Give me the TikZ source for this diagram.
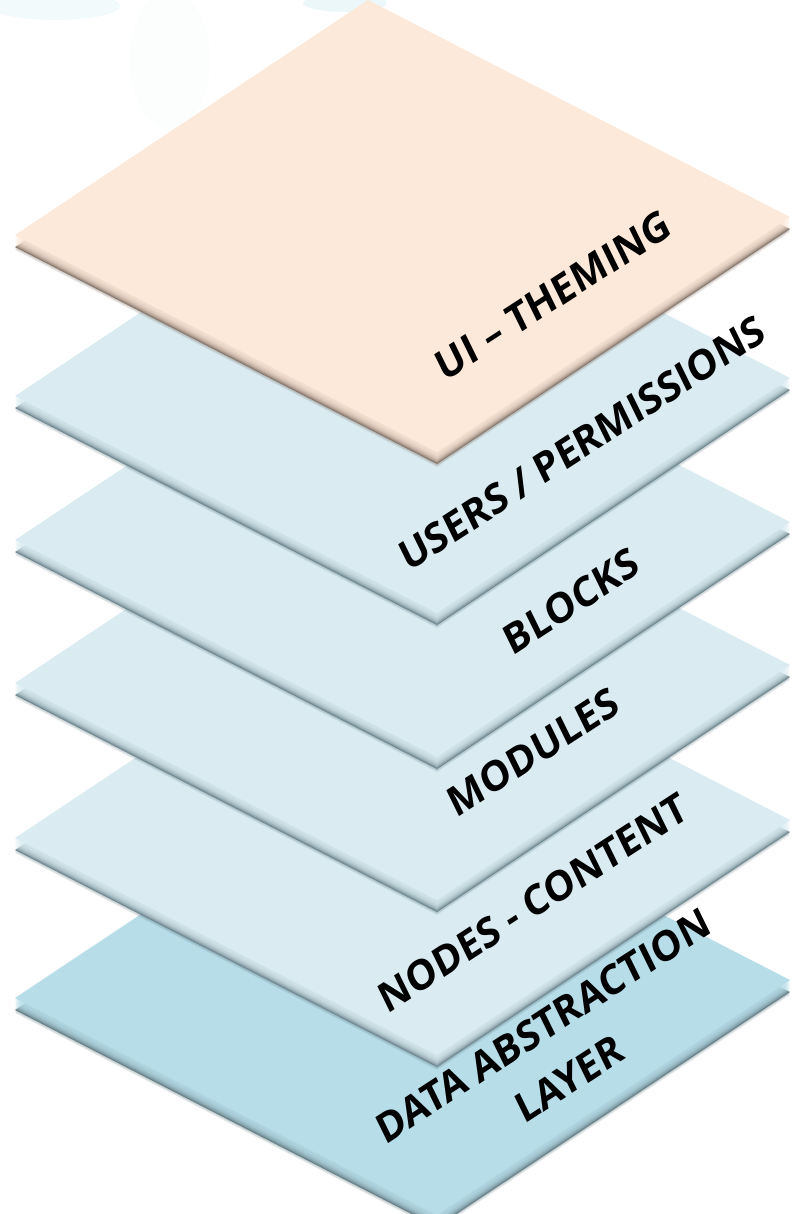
\documentclass[tikz,border=0pt]{standalone}
\usepackage{fontspec}
\setmainfont{Open Sans}
\usepackage{tikz}
\usetikzlibrary{positioning}

\definecolor{peachface}{HTML}{FCE9DA}
\definecolor{peachedge}{HTML}{6F5C50}
\definecolor{blueface}{HTML}{DAECF2}
\definecolor{blueedge}{HTML}{55707A}
\definecolor{baseface}{HTML}{B7DDE8}
\definecolor{baseedge}{HTML}{4A6770}
\definecolor{splash}{HTML}{BFE6EC}

% one plate of the stack: #1 = y of left corner, #2 = face, #3 = edge
\newcommand{\plate}[3]{%
  \foreach \k in {3,2,1}
    \fill[#3, opacity=0.12] (15,#1+\k) -- (437,#1+217+\k) -- (790,#1-18+\k) -- (368,#1-235+\k) -- cycle;
  \fill[#3!85!white] (15,#1) -- (437,#1+217) -- (790,#1-18) -- (368,#1-235) -- cycle;
  \foreach \k in {1,...,11}
    \fill[#2, opacity=0.22] (15,#1-\k) -- (437,#1+217-\k) -- (790,#1-18-\k) -- (368,#1-235-\k) -- cycle;
  \fill[#2] (15,#1-12) -- (437,#1+205) -- (790,#1-30) -- (368,#1-247) -- cycle;
}

\begin{document}
\begin{tikzpicture}[x=0.75pt, y=-0.75pt,
  layertext/.style={font=\bfseries\fontsize{30}{44}\selectfont, rotate=33, xslant=0.12, align=center, inner sep=0pt}]

\useasboundingbox (0,0) rectangle (792,1214);

% faint splashes at the top
\fill[splash, opacity=0.2] (55,6) ellipse (65 and 14);
\fill[splash, opacity=0.05] (170,60) ellipse (40 and 70);
\fill[splash, opacity=0.3] (345,3) ellipse (42 and 9);

% plates, from the bottom up
\plate{1010}{baseface}{baseedge}
\plate{850}{blueface}{blueedge}
\plate{695}{blueface}{blueedge}
\plate{552}{blueface}{blueedge}
\plate{408}{blueface}{blueedge}
\plate{247}{peachface}{peachedge}

% labels
\node[layertext] (theming) at (553,295) {UI -- THEMING};
\node[layertext] (users) at (582,443) {USERS / PERMISSIONS};
\node[layertext] (blocks) at (571,601) {BLOCKS};
\node[layertext] (modules) at (533,752) {MODULES};
\node[layertext] (content) at (533,903) {NODES - CONTENT};
\node[layertext] (dal) at (556,1052) {DATA ABSTRACTION\\LAYER};

\end{tikzpicture}
\end{document}
